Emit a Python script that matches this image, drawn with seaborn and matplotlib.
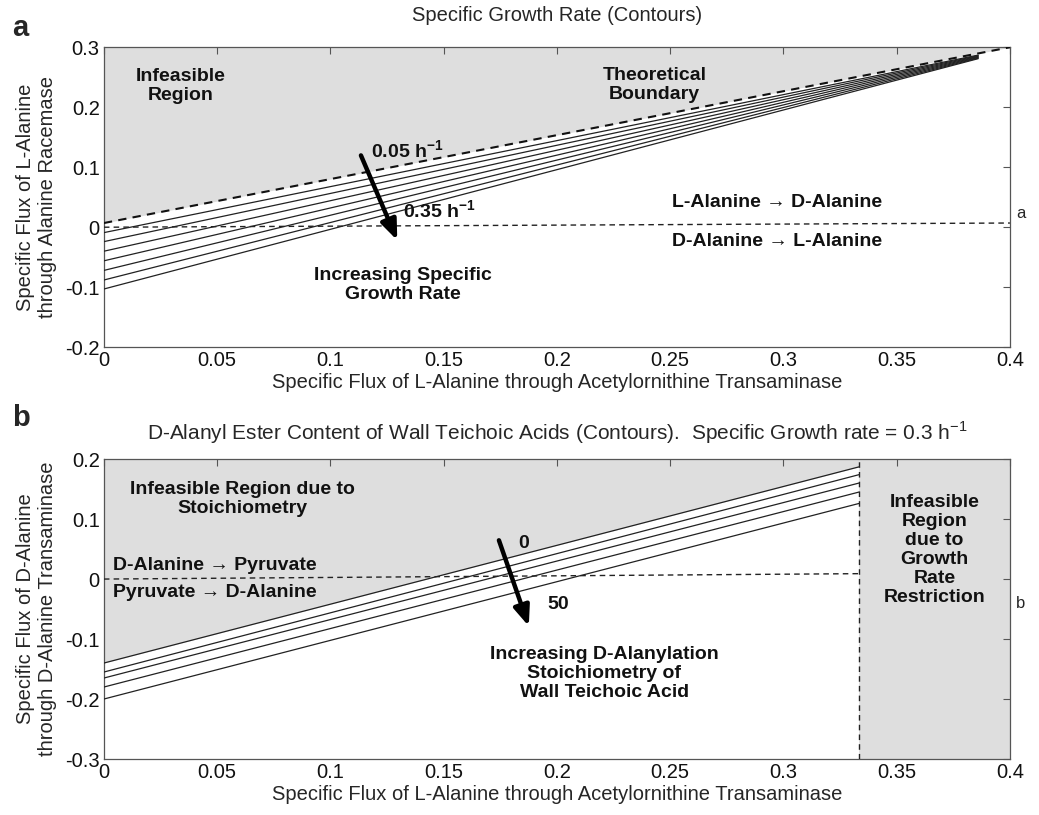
import numpy as np
import pandas as pd
import matplotlib
matplotlib.use("Agg")
import matplotlib.pyplot as plt
import seaborn as sns

# ---------------- data ----------------
x_ticks = [0, 0.05, 0.1, 0.15, 0.2, 0.25, 0.3, 0.35, 0.4]
x_ticklabels = ["0", "0.05", "0.1", "0.15", "0.2", "0.25", "0.3", "0.35", "0.4"]

# panel a: L-alanine racemase flux vs acetylornithine transaminase flux
a_yticks = [-0.2, -0.1, 0, 0.1, 0.2, 0.3]
a_yticklabels = ["-0.2", "-0.1", "0", "0.1", "0.2", "0.3"]
a_boundary_x = [0.0, 0.4]
a_boundary_y = [0.007, 0.300]
a_direction_x = [0.0, 0.4]
a_direction_y = [0.0, 0.007]
a_growth_levels = ["0.05", "0.10", "0.15", "0.20", "0.25", "0.30", "0.35"]
a_contour_start_y = [-0.009, -0.024, -0.040, -0.056, -0.072, -0.088, -0.103]
a_contour_end_x = [0.386, 0.386, 0.386, 0.386, 0.386, 0.386, 0.386]
a_contour_end_y = [0.287, 0.286, 0.285, 0.284, 0.283, 0.282, 0.281]

# panel b: D-alanine transaminase flux vs acetylornithine transaminase flux
b_yticks = [-0.3, -0.2, -0.1, 0, 0.1, 0.2]
b_yticklabels = ["-0.3", "-0.2", "-0.1", "0", "0.1", "0.2"]
b_growth_limit = 1 / 3
b_direction_x = [0.0, 1 / 3]
b_direction_y = [0.0, 0.009]
b_contour_names = ["c1", "c2", "c3", "c4", "c5"]
b_contour_start_y = [-0.140, -0.155, -0.165, -0.180, -0.200]
b_contour_end_y = [0.187, 0.174, 0.160, 0.145, 0.126]

# ---------------- style ----------------
sns.set_theme(style="white")
plt.rcParams["font.family"] = ["Liberation Sans", "DejaVu Sans"]
plt.rcParams["axes.unicode_minus"] = False
plt.rcParams["mathtext.fontset"] = "custom"
plt.rcParams["mathtext.rm"] = "Liberation Sans"
plt.rcParams["mathtext.bf"] = "Liberation Sans:bold"

GRAY = "#dedede"
FRAME = "#555555"

fig = plt.figure(figsize=(10.39, 8.15), dpi=100)
ax_a = fig.add_axes([0.100, 0.574, 0.872, 0.368])
ax_b = fig.add_axes([0.100, 0.0687, 0.872, 0.368])


def style_axes(ax, yticks, yticklabels, ylim):
    ax.set_xlim(0, 0.4)
    ax.set_ylim(*ylim)
    ax.set_xticks(x_ticks)
    ax.set_xticklabels(x_ticklabels)
    ax.set_yticks(yticks)
    ax.set_yticklabels(yticklabels)
    ax.tick_params(direction="in", top=True, right=True, length=5, width=0.8,
                   color=FRAME, labelsize=14.5, pad=3, labelcolor="#111111")
    for s in ax.spines.values():
        s.set_color(FRAME)
        s.set_linewidth(0.9)
    ax.set_facecolor("white")


# ---------------- panel a ----------------
ax = ax_a
ax.fill_between(a_boundary_x, a_boundary_y, 0.3, color=GRAY, lw=0, zorder=0)

rows = []
for lvl, y0, x1, y1 in zip(a_growth_levels, a_contour_start_y, a_contour_end_x, a_contour_end_y):
    rows.append({"x": 0.0, "y": y0, "level": lvl})
    rows.append({"x": x1, "y": y1, "level": lvl})
df_a = pd.DataFrame(rows)
sns.lineplot(data=df_a, x="x", y="y", units="level", estimator=None, sort=False,
             color="#222222", lw=0.9, ax=ax, zorder=3)
ax.plot(a_boundary_x, a_boundary_y, ls=(0, (4, 3)), color="#111111", lw=1.5, zorder=4)
ax.plot(a_direction_x, a_direction_y, ls=(0, (4, 3)), color="#222222", lw=1.0, zorder=4)

style_axes(ax, a_yticks, a_yticklabels, (-0.2, 0.3))
ax.set_xlabel("Specific Flux of L-Alanine through Acetylornithine Transaminase",
              fontsize=14.5, labelpad=2)
ax.set_ylabel("Specific Flux of L-Alanine\nthrough Alanine Racemase", fontsize=14.5,
              labelpad=6, linespacing=1.2)
ax.set_title("Specific Growth Rate (Contours)", fontsize=14.5, pad=19)

bold = dict(fontsize=14, fontweight="bold", color="#111111")
ax.text(0.034, 0.235, "Infeasible\nRegion", ha="center", va="center", linespacing=1.15, **bold)
ax.text(0.243, 0.237, "Theoretical\nBoundary", ha="center", va="center", linespacing=1.15, **bold)
ax.text(0.118, 0.127, "0.05 h$^{\\mathbf{-1}}$", ha="left", va="center", **bold)
ax.text(0.132, 0.027, "0.35 h$^{\\mathbf{-1}}$", ha="left", va="center", **bold)
ax.text(0.132, -0.097, "Increasing Specific\nGrowth Rate", ha="center", va="center",
        linespacing=1.15, **bold)
ax.text(0.297, 0.042, "L-Alanine \u2192 D-Alanine", ha="center", va="center", **bold)
ax.text(0.297, -0.024, "D-Alanine \u2192 L-Alanine", ha="center", va="center", **bold)
ax.annotate("", xy=(0.130, -0.026), xytext=(0.113, 0.124),
            arrowprops=dict(arrowstyle="-|>,head_length=1.0,head_width=0.4",
                            color="black", lw=3.2), zorder=6)

# ---------------- panel b ----------------
ax = ax_b
ax.fill_between([0.0, b_growth_limit], [b_contour_start_y[0], b_contour_end_y[0]], 0.2,
                color=GRAY, lw=0, zorder=0)
ax.fill_between([b_growth_limit, 0.4], -0.3, 0.2, color=GRAY, lw=0, zorder=0)

rows = []
for name, y0, y1 in zip(b_contour_names, b_contour_start_y, b_contour_end_y):
    rows.append({"x": 0.0, "y": y0, "line": name})
    rows.append({"x": b_growth_limit, "y": y1, "line": name})
df_b = pd.DataFrame(rows)
sns.lineplot(data=df_b, x="x", y="y", units="line", estimator=None, sort=False,
             color="#222222", lw=0.9, ax=ax, zorder=3)
ax.plot(b_direction_x, b_direction_y, ls=(0, (4, 3)), color="#222222", lw=1.0, zorder=4)
ax.plot([b_growth_limit, b_growth_limit], [-0.3, 0.2], ls=(0, (4, 3)), color="#222222",
        lw=1.0, zorder=4)

style_axes(ax, b_yticks, b_yticklabels, (-0.3, 0.2))
ax.set_xlabel("Specific Flux of L-Alanine through Acetylornithine Transaminase",
              fontsize=14.5, labelpad=2)
ax.set_ylabel("Specific Flux of D-Alanine\nthrough D-Alanine Transaminase", fontsize=14.5,
              labelpad=6, linespacing=1.2)
ax.set_title("D-Alanyl Ester Content of Wall Teichoic Acids (Contours).  "
             "Specific Growth rate = 0.3 h$^{-1}$", fontsize=15, pad=14)

ax.text(0.061, 0.133, "Infeasible Region due to\nStoichiometry", ha="center", va="center",
        linespacing=1.15, **bold)
ax.text(0.004, 0.023, "D-Alanine \u2192 Pyruvate", ha="left", va="center", **bold)
ax.text(0.004, -0.023, "Pyruvate \u2192 D-Alanine", ha="left", va="center", **bold)
ax.text(0.183, 0.060, "0", ha="left", va="center", **bold)
ax.text(0.196, -0.042, "50", ha="left", va="center", **bold)
ax.text(0.221, -0.157, "Increasing D-Alanylation\nStoichiometry of\nWall Teichoic Acid",
        ha="center", va="center", linespacing=1.15, **bold)
ax.text(0.3667, 0.048, "Infeasible\nRegion\ndue to\nGrowth\nRate\nRestriction",
        ha="center", va="center", linespacing=1.15, **bold)
ax.annotate("", xy=(0.188, -0.083), xytext=(0.174, 0.069),
            arrowprops=dict(arrowstyle="-|>,head_length=1.0,head_width=0.4",
                            color="black", lw=3.2), zorder=6)

# panel letters and side tags
fig.text(12 / 1039, 1 - 28 / 815, "a", fontsize=21, fontweight="bold", va="center")
fig.text(12 / 1039, 1 - 418 / 815, "b", fontsize=21, fontweight="bold", va="center")
fig.text(1016 / 1039, 1 - 213 / 815, "a", fontsize=12, va="center")
fig.text(1016 / 1039, 1 - 603 / 815, "b", fontsize=12, va="center")

fig.savefig("out.png", dpi=100)
